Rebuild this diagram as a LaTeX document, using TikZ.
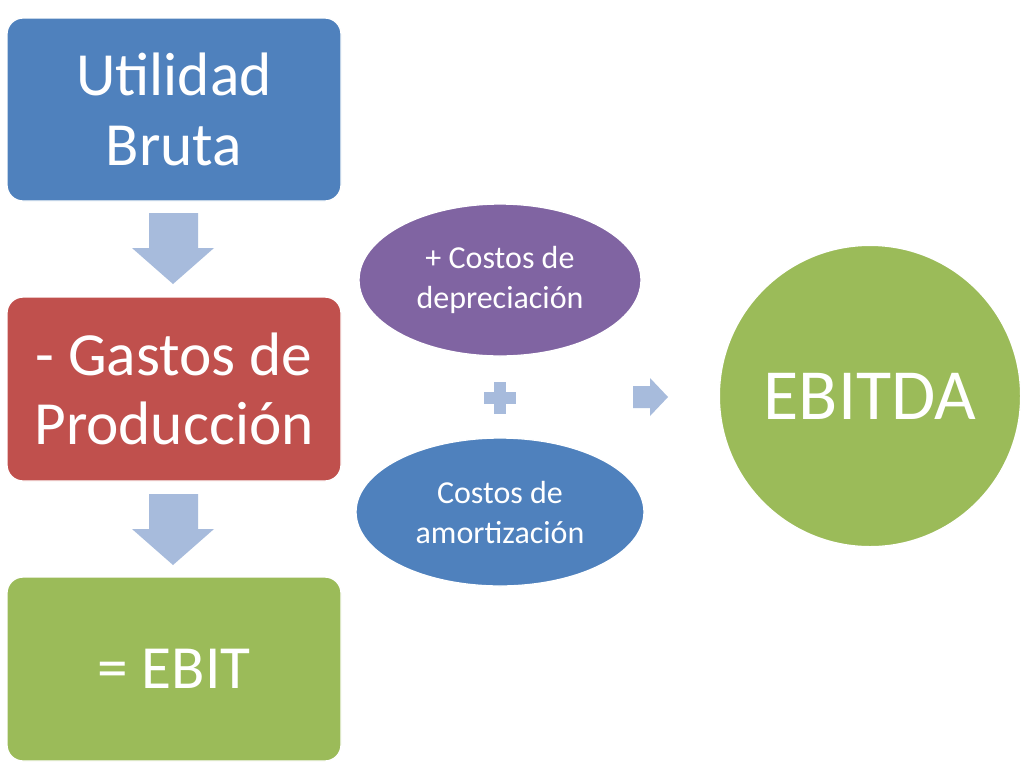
\documentclass[tikz,border=0pt]{standalone}
\usepackage{fontspec}
\setmainfont{Carlito}
\usetikzlibrary{shapes.geometric}
\definecolor{cblue}{HTML}{4F81BD}
\definecolor{cred}{HTML}{C0504D}
\definecolor{cgreen}{HTML}{9BBB59}
\definecolor{cpurp}{HTML}{8064A2}
\definecolor{carr}{HTML}{A7BBDC}
\tikzset{
 box/.style={rounded corners=12pt,draw=white,line width=1pt,text=white,align=center,font=\fontsize{46}{52}\selectfont},
 ell/.style={ellipse,draw=white,line width=1pt,text=white,align=center,inner sep=0pt,font=\fontsize{24}{30}\selectfont},
 arr/.style={fill=carr,draw=none}
}
\begin{document}
\begin{tikzpicture}[x=0.75pt,y=-0.75pt]
\useasboundingbox (0,0) rectangle (1024,768);
\fill[white] (0,0) rectangle (1024,768);
\path[box,fill=cblue] (7,18) rectangle (341,201) node[midway] (ub) {Utilidad\\Bruta};
\path[box,fill=cred] (7,297) rectangle (341,481) node[midway] (gp) {- Gastos de\\Producción};
\path[box,fill=cgreen] (7,577) rectangle (341,761) node[midway] (eb) {= EBIT};
\fill[arr] (149,213) -- (198,213) -- (198,248) -- (214,248) -- (173,284) -- (132,248) -- (149,248) -- cycle;
\fill[arr] (149,494) -- (198,494) -- (198,529) -- (214,529) -- (173,565) -- (132,529) -- (149,529) -- cycle;
\node[ell,fill=cpurp,minimum width=211.5pt,minimum height=114pt] (dep) at (500,280) {+ Costos de\\depreciación};
\node[ell,fill=cblue,minimum width=216pt,minimum height=111pt] (am) at (500,512) {Costos de\\amortización};
\node[circle,fill=cgreen,draw=white,line width=1pt,inner sep=0pt,minimum size=226pt,text=white,font=\fontsize{54}{60}\selectfont] (ebitda) at (870,396) {EBITDA};
\fill[arr] (494,382) rectangle (506,414);
\fill[arr] (484,392) rectangle (516,404);
\fill[arr] (633,386) -- (650,386) -- (650,378) -- (668,397) -- (650,416) -- (650,408) -- (633,408) -- cycle;
\end{tikzpicture}
\end{document}
